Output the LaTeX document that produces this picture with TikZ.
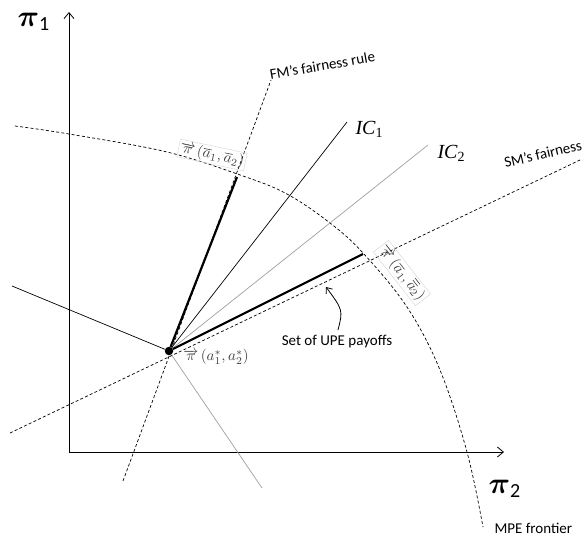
\documentclass[tikz,border=0pt]{standalone}
\usepackage{fontspec}
\setmainfont{Carlito}
\newfontfamily\tnr{Liberation Serif}
\usetikzlibrary{arrows.meta}
\tikzset{
  axisline/.style={line width=0.8pt,-{Straight Barb[length=6pt,width=10pt]}},
  thinline/.style={line width=0.7pt},
  grayline/.style={line width=0.7pt,draw=gray!75},
  thickline/.style={line width=2.2pt},
  fairline/.style={line width=0.7pt,dash pattern=on 3pt off 2.2pt},
  plabel/.style={draw=gray!35,line width=0.4pt,inner sep=1pt,text=gray!50!black,font=\fontsize{10}{10}\selectfont,scale=1.5},
  txt/.style={font=\fontsize{15}{17}\selectfont},
  dotnode/.style={circle,fill=black,inner sep=0pt,minimum size=8.5pt},
  bigpi/.style={font=\fontsize{12}{12}\selectfont,scale=2.5},
}
\begin{document}
\begin{tikzpicture}[x=1pt,y=-1pt]
\useasboundingbox (0,0) rectangle (584,544);
\clip (0,0) rectangle (584,544);
% axes
\coordinate (org) at (69,452);
\coordinate (ytip) at (69,12);
\coordinate (xtip) at (504,452);
\draw[axisline] (org) -- (ytip);
\draw[axisline] (org) -- (xtip);
\node[bigpi] (pi1) at (34,22) {{\boldmath$\pi$}$_{\mathrm{1}}$};
\node[bigpi] (pi2) at (505,489) {{\boldmath$\pi$}$_{\mathrm{2}}$};
% frontier
\draw[fairline] plot[smooth,tension=0.6] coordinates {(15,126) (69,134) (167,152) (243,176) (287,194) (330,223) (363,253) (407,307) (440,370) (467,452) (483,527)};
\node[txt,anchor=west] (mpe) at (491,528) {MPE frontier};
% main point
\node[dotnode] (O) at (169,351) {};
% tangent lines
\coordinate (tl) at (12,286);
\coordinate (tr) at (262,488);
\draw[thinline] (tl) -- (O);
\draw[grayline] (O) -- (tr);
% fairness rules
\coordinate (fmtop) at (271,80);
\coordinate (fmbot) at (123,481);
\draw[fairline] (fmbot) -- (fmtop);
\node[txt,rotate=10,anchor=south west] (fm) at (268,84) {FM’s fairness rule};
\coordinate (smtop) at (580,160);
\coordinate (smbot) at (10,433);
\draw[fairline] (smbot) -- (smtop);
\node[txt,rotate=13,anchor=south west] (sm) at (503,172) {SM’s fairness rule};
% IC lines
\coordinate (ic1end) at (347,122);
\coordinate (ic2end) at (428,145);
\draw[thinline] (O) -- (ic1end);
\draw[grayline] (O) -- (ic2end);
\node[font=\fontsize{20}{20}\selectfont\tnr\itshape,anchor=west] (ic1) at (352,129) {IC\textsubscript{\upshape 1}};
\node[font=\fontsize{20}{20}\selectfont\tnr\itshape,anchor=west] (ic2) at (434,153) {IC\textsubscript{\upshape 2}};
% UPE set edges
\coordinate (u1) at (237,177);
\coordinate (u2) at (363,254);
\draw[thickline] (O) -- (u1);
\draw[thickline] (O) -- (u2);
\node[plabel,rotate=-12] (lab1) at (212,155) {$\overrightarrow{\pi}\,(\overline{a}_1,\overline{a}_2)$};
\node[plabel,rotate=-52] (lab2) at (402,273) {$\overrightarrow{\pi}\,(\overline{a}_1,\overline{\overline{a}}_2)$};
\node[text=gray!50!black,font=\fontsize{10}{10}\selectfont,scale=1.5,anchor=west] (lab0) at (178,357) {$\overrightarrow{\pi}\,(a_1^*,a_2^*)$};
% UPE label and arrow
\node[txt] (upe) at (337,342) {Set of UPE payoffs};
\coordinate (atip) at (326,287);
\draw[line width=0.8pt,-{Straight Barb[length=5pt,width=8pt]}] (upe.north) ++(1,-2) .. controls (343,310) .. (atip);
\end{tikzpicture}
\end{document}
